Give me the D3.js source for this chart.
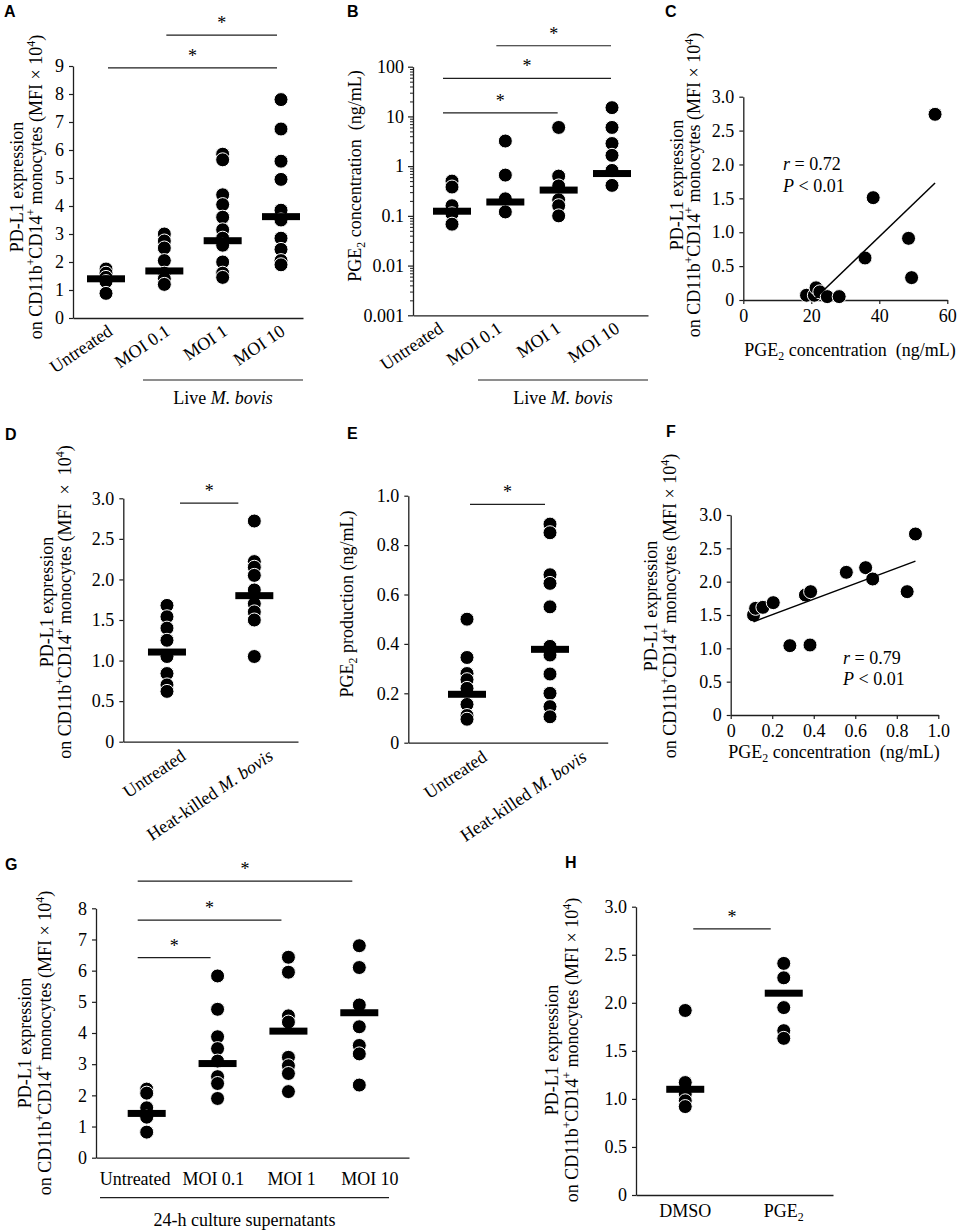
<!DOCTYPE html>
<html><head><meta charset="utf-8">
<script src="https://cdn.jsdelivr.net/npm/d3@7"></script>
<style>
body{margin:0;background:#fff;}
svg text{font-family:"Liberation Serif","Times New Roman",serif;fill:#000;}
svg text.plabel{font-family:"Liberation Sans",Arial,sans-serif;font-weight:bold;font-size:16px;}
</style></head><body>
<svg id="fig" width="957" height="1231"></svg>
<script>
// ---------------- DATA ----------------
const catsLive = ["Untreated","MOI 0.1","MOI 1","MOI 10"];
const catsHeat = ["Untreated","Heat-killed M. bovis"];
const catsSup  = ["Untreated","MOI 0.1","MOI 1","MOI 10"];
const catsH    = ["DMSO","PGE2"];

// A: PD-L1 (MFI x 10^4), live M. bovis
const aValues  = [[1.75,1.6,1.45,1.3,0.88],[3.0,2.75,2.5,2.05,1.6,1.4,1.2],[5.85,5.65,4.4,4.05,3.6,3.15,2.85,2.6,2.0,1.6,1.45],[7.8,6.75,5.6,4.95,3.85,3.5,2.85,2.45,2.05,1.9]];
const aMedians = [1.4,1.68,2.76,3.62];
const aTicks   = [0,1,2,3,4,5,6,7,8,9];
const aSig     = [["Untreated","MOI 10",8.93],["MOI 0.1","MOI 10",10.1]];

// B: PGE2 (ng/mL), log axis
const bValues  = [[0.5,0.38,0.16,0.11,0.068],[3.2,0.66,0.22,0.12],[6.0,0.63,0.4,0.21,0.16,0.1],[15,6,2.85,1.65,0.82,0.41]];
const bMedians = [0.124,0.19,0.33,0.71];
const bTicks   = [0.001,0.01,0.1,1,10,100];
const bSig     = [["MOI 0.1","MOI 10",264],["Untreated","MOI 10",58],["Untreated","MOI 1",11.8]];

// C: correlation PGE2 vs PD-L1
const cX      = [18.6,20.9,21.4,22.5,24.7,28.2,35.8,38.2,48.6,49.5,56.4];
const cY      = [0.07,0.07,0.18,0.12,0.05,0.05,0.62,1.51,0.91,0.33,2.74];
const cXTicks = [0,20,40,60];
const cYTicks = [0,0.5,1.0,1.5,2.0,2.5,3.0];
const cStats  = ["0.72","0.01"];

// D: PD-L1, heat-killed
const dValues  = [[1.68,1.54,1.4,1.25,1.05,0.84,0.7,0.62],[2.72,2.22,2.15,2.05,1.87,1.7,1.6,1.5,1.05]];
const dMedians = [1.105,1.8];
const dTicks   = [0,0.5,1.0,1.5,2.0,2.5,3.0];
const dSig     = [["Untreated","Heat-killed M. bovis",2.94]];

// E: PGE2 production, heat-killed
const eValues  = [[0.5,0.345,0.28,0.255,0.22,0.155,0.11,0.095],[0.885,0.85,0.68,0.645,0.55,0.39,0.355,0.278,0.2,0.146,0.105]];
const eMedians = [0.196,0.378];
const eTicks   = [0,0.2,0.4,0.6,0.8,1.0];
const eSig     = [["Untreated","Heat-killed M. bovis",0.965]];

// F: correlation
const fX      = [0.11,0.12,0.155,0.205,0.285,0.36,0.385,0.382,0.557,0.65,0.684,0.85,0.89];
const fY      = [1.5,1.6,1.615,1.685,1.04,1.8,1.85,1.05,2.14,2.21,2.04,1.85,2.715];
const fXTicks = [0,0.2,0.4,0.6,0.8,1.0];
const fYTicks = [0,0.5,1.0,1.5,2.0,2.5,3.0];
const fStats  = ["0.79","0.01"];

// G: 24-h culture supernatants
const gValues  = [[2.2,2.07,1.6,1.3,0.82],[5.83,4.76,3.88,3.5,3.1,2.6,2.38,1.9],[6.43,5.95,4.55,4.35,3.22,2.95,2.7,2.12],[6.8,6.1,4.9,4.2,3.6,3.33,2.33]];
const gMedians = [1.42,3.02,4.06,4.65];
const gTicks   = [0,1,2,3,4,5,6,7,8];
const gSig     = [["Untreated","MOI 10",8.87],["Untreated","MOI 1",7.62],["Untreated","MOI 0.1",6.42]];

// H: DMSO vs PGE2
const hValues  = [[1.92,1.17,1.05,0.98,0.92],[2.41,2.26,1.95,1.71,1.63]];
const hMedians = [1.1,2.1];
const hTicks   = [0,0.5,1.0,1.5,2.0,2.5,3.0];
const hSig     = [["DMSO","PGE2",2.77]];

// text snippets
const pdTitle  = [[["PD-L1 expression"]],[["on CD11b"],["+","sup"],["CD14"],["+","sup"],[" monocytes (MFI × 10"],["4","sup"],[")"]]];
const pdTitleD = [[["PD-L1 expression"]],[["on CD11b"],["+","sup"],["CD14"],["+","sup"],[" monocytes (MFI\u00A0 ×\u00A0 10"],["4","sup"],[")"]]];
const pgeConc  = [[["PGE"],["2","sub"],[" concentration\u00A0 (ng/mL)"]]];
const pgeProd  = [[["PGE"],["2","sub"],[" production (ng/mL)"]]];
const liveText = [["Live "],["M. bovis","i"]];
const supText  = [["24-h culture supernatants"]];

// ---------------- DRAWING ----------------
const svg = d3.select("#fig");
const FS = 18, AX = "#1e1e1e", R = 7, BW = 38, BH = 7;
const f1 = d => d === 0 ? "0" : d.toFixed(1);

function rich(text, parts, fs){
  let shift = 0;
  parts.forEach(([t,k]) => {
    const ts = text.append("tspan").text(t);
    let target = 0;
    if (k === "sup"){ target = -0.38*fs; ts.attr("font-size", fs*0.66); }
    else if (k === "sub"){ target = 0.22*fs; ts.attr("font-size", fs*0.66); }
    else if (k === "i"){ ts.attr("font-style","italic"); }
    if (target !== shift){ ts.attr("dy", target - shift); shift = target; }
  });
}
function labelParts(s){
  if (s.includes("M. bovis")) return [[s.replace("M. bovis","")],["M. bovis","i"]];
  if (s === "PGE2") return [["PGE"],["2","sub"]];
  return [[s]];
}
function styleAxis(g){
  g.attr("font-family", null).attr("font-size", null);
  g.select(".domain").attr("stroke", AX).attr("stroke-width", 1.3);
  g.selectAll(".tick line").attr("stroke", AX).attr("stroke-width", 1.2);
  g.selectAll(".tick text").attr("font-size", FS).attr("fill", "#000");
}
function panelLabel(t, x, y){ svg.append("text").attr("class","plabel").attr("x",x).attr("y",y).text(t); }
function yTitle(lines, xs, cy){
  lines.forEach((parts,i) => {
    const t = svg.append("text").attr("x", xs[i]).attr("y", cy)
      .attr("transform", `rotate(-90,${xs[i]},${cy})`).attr("text-anchor","middle").attr("font-size", FS);
    rich(t, parts, FS);
  });
}
function centeredText(parts, x, y){
  const t = svg.append("text").attr("x",x).attr("y",y).attr("text-anchor","middle").attr("font-size",FS);
  rich(t, parts, FS);
}

function catPanel(c){
  const g = svg.append("g");
  const y = (c.log ? d3.scaleLog() : d3.scaleLinear()).domain(c.yDomain).range([c.yZero, c.yTop]);
  const band = d3.scaleBand().domain(c.cats).range([c.x0, c.x1]);
  const xd = c.dotRange ? d3.scalePoint().domain(c.cats).range(c.dotRange)
                        : (d => band(d) + band.bandwidth()/2);
  const ya = g.append("g").attr("transform", `translate(${c.x0},0)`)
    .call(d3.axisLeft(y).tickValues(c.ticks).tickFormat(c.fmt).tickSize(c.log?5:4).tickPadding(c.log?4:5).tickSizeOuter(0));
  styleAxis(ya);
  if (c.log){
    const minor = [];
    c.ticks.slice(0,-1).forEach(t => { for (let k=2;k<10;k++) minor.push(t*k); });
    const mg = g.append("g").attr("transform", `translate(${c.x0},0)`)
      .call(d3.axisLeft(y).tickValues(minor).tickFormat("").tickSize(3).tickSizeOuter(0));
    mg.select(".domain").remove();
    mg.selectAll("line").attr("stroke", AX).attr("stroke-width", 1);
  }
  const xa = g.append("g").attr("transform", `translate(0,${c.yZero})`)
    .call(d3.axisBottom(band).tickSize(0).tickSizeOuter(0));
  styleAxis(xa);
  xa.selectAll(".tick text").each(function(d){
    const t = d3.select(this); t.text(null); rich(t, labelParts(d), FS);
  });
  if (c.rot){
    xa.selectAll(".tick text").attr("text-anchor","end").attr("y",null).attr("dy",null)
      .attr("transform", `translate(${c.labelDx},${c.labelDy}) rotate(-34)`);
  } else {
    xa.selectAll(".tick text").attr("y", c.labelDy).attr("dy", null);
  }
  // dots
  c.values.forEach((vals,i) => {
    g.append("g").selectAll("circle").data(vals).join("circle")
      .attr("cx", xd(c.cats[i])).attr("cy", d => y(d)).attr("r", R)
      .attr("fill","#000").attr("stroke","#fff").attr("stroke-width",1);
  });
  // medians
  g.append("g").selectAll("rect").data(c.medians).join("rect")
    .attr("x", (d,i) => xd(c.cats[i]) - BW/2).attr("y", d => y(d) - BH/2)
    .attr("width", BW).attr("height", BH).attr("fill","#000");
  // significance
  c.sig.forEach(([a,b,lv]) => {
    const xa_ = xd(a) + c.sigInset[0], xb_ = xd(b) + c.sigInset[1], yy = y(lv);
    g.append("line").attr("x1",xa_).attr("x2",xb_).attr("y1",yy).attr("y2",yy)
      .attr("stroke",AX).attr("stroke-width",1.2);
    g.append("text").attr("x",(xa_+xb_)/2).attr("y",yy-6).attr("text-anchor","middle")
      .attr("font-size",FS).text("*");
  });
  // bracket
  if (c.bracket){
    const b = c.bracket;
    g.append("line").attr("x1",b.x0).attr("x2",b.x1).attr("y1",b.y).attr("y2",b.y)
      .attr("stroke",AX).attr("stroke-width",1.2);
    centeredText(b.parts, (b.x0+b.x1)/2, b.ty);
  }
  yTitle(c.title, c.titleX, c.titleY);
  panelLabel(c.label, c.lx, c.ly);
}

function scatterPanel(c){
  const g = svg.append("g");
  const x = d3.scaleLinear().domain(c.xDomain).range([c.x0, c.x1]);
  const y = d3.scaleLinear().domain(c.yDomain).range([c.yZero, c.yTop]);
  const ya = g.append("g").attr("transform", `translate(${c.x0},0)`)
    .call(d3.axisLeft(y).tickValues(c.yTicks).tickFormat(f1).tickSize(4).tickPadding(5).tickSizeOuter(0));
  styleAxis(ya);
  const xa = g.append("g").attr("transform", `translate(0,${c.yZero})`)
    .call(d3.axisBottom(x).tickValues(c.xTicks).tickFormat(c.xFmt).tickSize(4).tickPadding(5).tickSizeOuter(0));
  styleAxis(xa);
  const pts = c.xs.map((v,i) => [v, c.ys[i]]);
  g.append("g").selectAll("circle").data(pts).join("circle")
    .attr("cx", d => x(d[0])).attr("cy", d => y(d[1])).attr("r", R)
    .attr("fill","#000").attr("stroke","#fff").attr("stroke-width",1);
  // least-squares trend line
  const mx = d3.mean(c.xs), my = d3.mean(c.ys);
  const sxy = d3.sum(pts, d => (d[0]-mx)*(d[1]-my)), sxx = d3.sum(c.xs, v => (v-mx)*(v-mx));
  const m = sxy/sxx, b0 = my - m*mx;
  const xs0 = Math.max(d3.min(c.xs), -b0/m), xs1 = d3.max(c.xs);
  g.append("line").attr("x1",x(xs0)).attr("y1",y(m*xs0+b0)).attr("x2",x(xs1)).attr("y2",y(m*xs1+b0))
    .attr("stroke","#000").attr("stroke-width",1.5);
  // stats
  const t1 = g.append("text").attr("x",c.statX).attr("y",c.statY[0]).attr("font-size",FS);
  rich(t1, [["r","i"],[" = " + c.stats[0]]], FS);
  const t2 = g.append("text").attr("x",c.statX).attr("y",c.statY[1]).attr("font-size",FS);
  rich(t2, [["P","i"],[" < " + c.stats[1]]], FS);
  centeredText(pgeConc[0], c.xTitleX, c.xTitleY);
  yTitle(c.title, c.titleX, c.titleY);
  panelLabel(c.label, c.lx, c.ly);
}

// A
catPanel({label:"A", lx:4, ly:17, x0:73, x1:303, yZero:318, yTop:66, yDomain:[0,9],
  cats:catsLive, values:aValues, medians:aMedians, ticks:aTicks, fmt:d3.format("d"),
  dotRange:[106,281], rot:true, labelDx:12, labelDy:16, sig:aSig, sigInset:[2,-4],
  bracket:{x0:143,x1:303,y:380,ty:404,parts:liveText},
  title:pdTitle, titleX:[23,42], titleY:187});
// B
catPanel({label:"B", lx:347, ly:17, x0:413, x1:648, yZero:315.3, yTop:66.7, yDomain:[0.001,100], log:true,
  cats:catsLive, values:bValues, medians:bMedians, ticks:bTicks, fmt:d => String(d),
  dotRange:[452,612], rot:true, labelDx:2, labelDy:16, sig:bSig, sigInset:[-9,-1],
  bracket:{x0:478,x1:648,y:380,ty:404,parts:liveText},
  title:pgeConc, titleX:[361], titleY:176});
// C
scatterPanel({label:"C", lx:665, ly:17, x0:743.3, x1:947.3, yZero:300, yTop:96.7,
  xDomain:[0,60], yDomain:[0,3], xTicks:cXTicks, yTicks:cYTicks, xFmt:d3.format("d"),
  xs:cX, ys:cY, stats:cStats, statX:783, statY:[170,192],
  xTitleX:850, xTitleY:356, title:pdTitle, titleX:[683,700], titleY:185});
// D
catPanel({label:"D", lx:5, ly:440, x0:123.3, x1:298, yZero:741.7, yTop:498.3, yDomain:[0,3],
  cats:catsHeat, values:dValues, medians:dMedians, ticks:dTicks, fmt:f1,
  rot:true, labelDx:20, labelDy:17, sig:dSig, sigInset:[13,-16],
  title:pdTitleD, titleX:[53,71], titleY:602});
// E
catPanel({label:"E", lx:347, ly:439, x0:408.3, x1:607.7, yZero:742.7, yTop:495.7, yDomain:[0,1],
  cats:catsHeat, values:eValues, medians:eMedians, ticks:eTicks, fmt:f1,
  dotRange:[467,550], rot:true, labelDx:30, labelDy:17, sig:eSig, sigInset:[3,-5],
  title:pgeProd, titleX:[353], titleY:604});
// F
scatterPanel({label:"F", lx:666, ly:437, x0:730.7, x1:938.3, yZero:715, yTop:515,
  xDomain:[0,1], yDomain:[0,3], xTicks:fXTicks, yTicks:fYTicks, xFmt:f1,
  xs:fX, ys:fY, stats:fStats, statX:843, statY:[664,685],
  xTitleX:834, xTitleY:758, title:pdTitle, titleX:[657,676], titleY:606});
// G
catPanel({label:"G", lx:5, ly:870, x0:96, x1:409, yZero:1157.7, yTop:908.3, yDomain:[0,8],
  cats:catsSup, values:gValues, medians:gMedians, ticks:gTicks, fmt:d3.format("d"),
  dotRange:[146.7,359.3], rot:false, labelDy:27, sig:gSig, sigInset:[-9,-7],
  bracket:{x0:100,x1:389,y:1197.7,ty:1226,parts:supText},
  title:pdTitle, titleX:[31,51], titleY:1043});
// H
catPanel({label:"H", lx:565, ly:868, x0:636, x1:833, yZero:1195, yTop:906.7, yDomain:[0,3],
  cats:catsH, values:hValues, medians:hMedians, ticks:hTicks, fmt:f1,
  rot:false, labelDy:22, sig:hSig, sigInset:[8,-13],
  title:pdTitle, titleX:[558,578], titleY:1050});
</script>
</body></html>
